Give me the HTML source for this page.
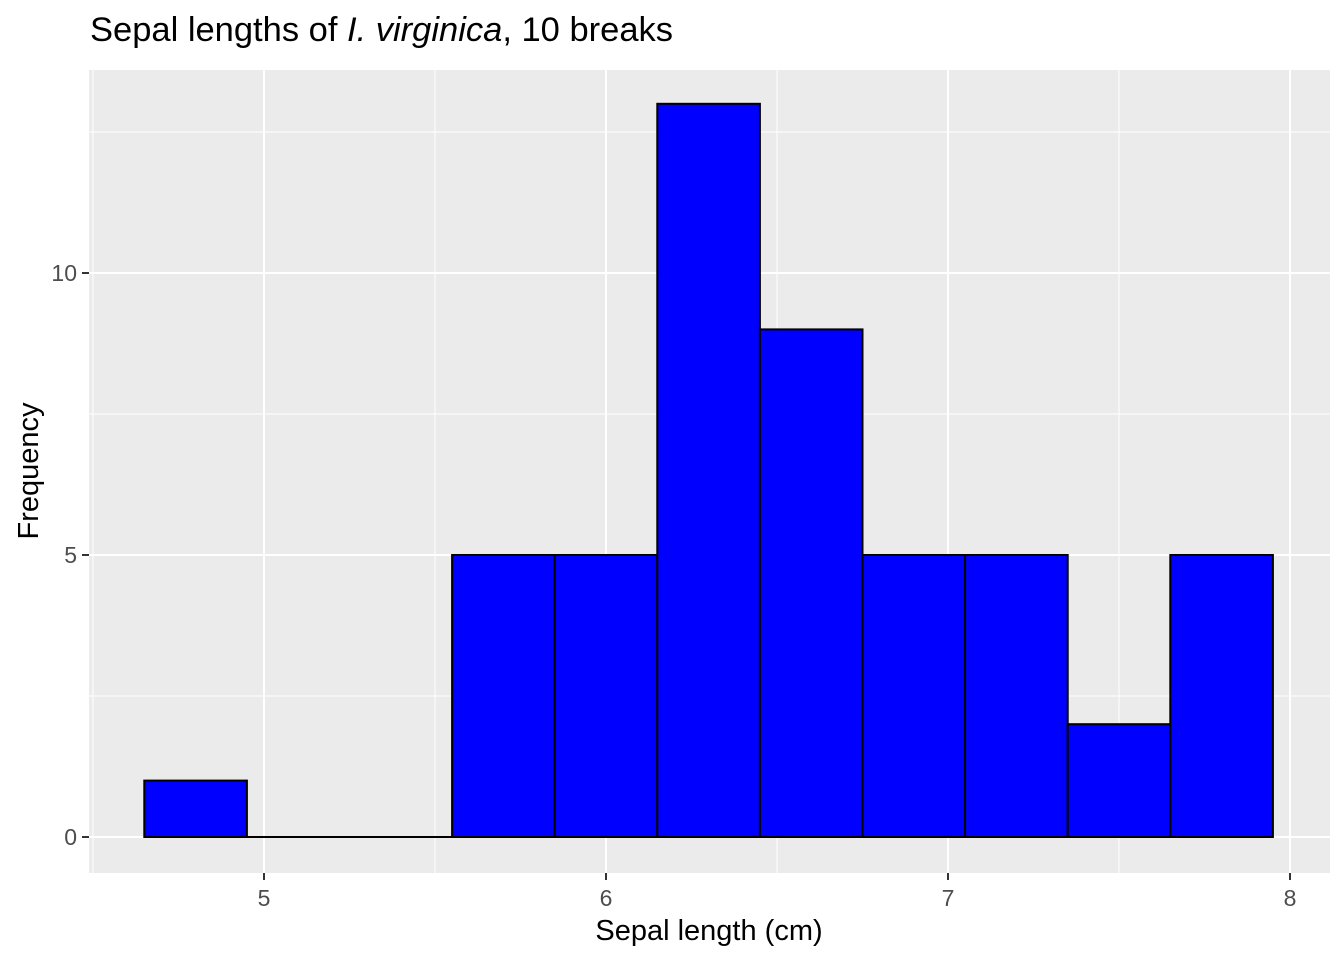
<!DOCTYPE html>
<html><head><meta charset="utf-8"><style>
body{margin:0;background:#fff;font-family:"Liberation Sans",Arial,sans-serif}
</style></head><body>
<svg id="chart" width="1344" height="960" xmlns="http://www.w3.org/2000/svg" font-family="Liberation Sans, Arial, sans-serif"></svg>
<script>
const binStarts=[4.65,4.95,5.25,5.55,5.85,6.15,6.45,6.75,7.05,7.35,7.65];
const counts=[1,0,0,5,5,13,9,5,5,2,5];
const binWidth=0.3;
const xTicks=[5,6,7,8];
const yTicks=[0,5,10];
const xMinor=[4.5,5.5,6.5,7.5];
const yMinor=[2.5,7.5,12.5];

const svg=document.getElementById('chart');
const NS='http://www.w3.org/2000/svg';
const L=89,R=1330,T=70,B=873;
const x=v=>264+(v-5)*342;
const y=v=>837-v*56.4;
function mk(tag,attrs,parent){const e=document.createElementNS(NS,tag);for(const k in attrs)e.setAttribute(k,attrs[k]);(parent||svg).appendChild(e);return e;}

const panel=mk('rect',{x:L,y:T,width:R-L,height:B-T,fill:'#ebebeb'});



xMinor.forEach(v=>{const l=mk('line',{x1:x(v),x2:x(v),y1:T,y2:B,stroke:'#fff','stroke-width':1});

});
yMinor.forEach(v=>{const l=mk('line',{x1:L,x2:R,y1:y(v),y2:y(v),stroke:'#fff','stroke-width':1});

});
xTicks.forEach(v=>{const l=mk('line',{x1:x(v),x2:x(v),y1:T,y2:B,stroke:'#fff','stroke-width':2});


const t=mk('line',{x1:x(v),x2:x(v),y1:B,y2:B+7,stroke:'#333','stroke-width':2});


const tx=mk('text',{x:x(v),y:906,'text-anchor':'middle','font-size':23,fill:'#4d4d4d'});tx.textContent=v;

});
yTicks.forEach(v=>{const l=mk('line',{x1:L,x2:R,y1:y(v),y2:y(v),stroke:'#fff','stroke-width':2});


const t=mk('line',{x1:L-7,x2:L,y1:y(v),y2:y(v),stroke:'#333','stroke-width':2});


const tx=mk('text',{x:L-12,y:y(v)+8,'text-anchor':'end','font-size':23,fill:'#4d4d4d'});tx.textContent=v;

});

binStarts.forEach((s,i)=>{
if(counts[i]===0){const l=mk('line',{x1:x(s),x2:x(s+binWidth),y1:y(0),y2:y(0),stroke:'#000','stroke-width':2});

return;}
const r=mk('rect',{x:x(s),y:y(counts[i]),width:x(s+binWidth)-x(s),height:y(0)-y(counts[i]),fill:'#0000ff',stroke:'#000','stroke-width':2});

});

const title=mk('text',{x:90,y:41,'font-size':34.5,fill:'#000'});
title.innerHTML='Sepal lengths of <tspan font-style="italic">I. virginica</tspan>, 10 breaks';


const xt=mk('text',{x:709,y:940,'text-anchor':'middle','font-size':29,fill:'#000'});xt.textContent='Sepal length (cm)';


const yt=mk('text',{x:0,y:0,'text-anchor':'middle','font-size':29,fill:'#000',transform:'translate(38,471) rotate(-90)'});yt.textContent='Frequency';


</script>
</body></html>
